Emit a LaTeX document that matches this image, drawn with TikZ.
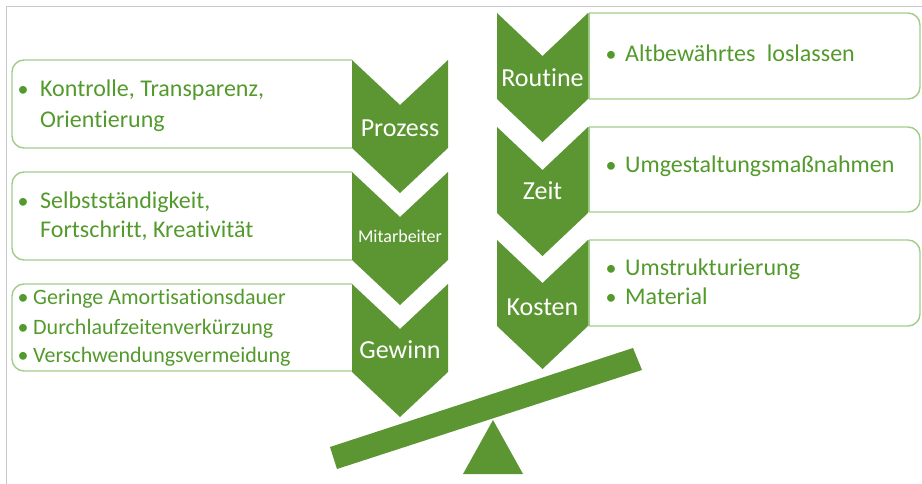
\documentclass[tikz,border=0pt]{standalone}
\usepackage{fontspec}
\setmainfont{Carlito}[Ligatures=NoCommon]
\definecolor{chevgreen}{HTML}{5B9632}
\definecolor{txtgreen}{HTML}{539A2C}
\definecolor{boxgreen}{HTML}{A2CC88}
\definecolor{framegray}{HTML}{C8C8C8}
\tikzset{
  chev/.style={fill=chevgreen, draw=none},
  boxline/.style={draw=boxgreen, line width=1.4pt, rounded corners=12pt},
  item/.style={anchor=base west, inner sep=0pt, text=txtgreen, font=\fontsize{24}{28}\selectfont},
  smallitem/.style={anchor=base west, inner sep=0pt, text=txtgreen, font=\fontsize{22}{26}\selectfont},
  dot/.style={anchor=base, inner sep=0pt, text=txtgreen, font=\fontsize{22}{26}\selectfont},
  chevlabel/.style={anchor=base, inner sep=0pt, text=white, font=\fontsize{26}{30}\selectfont},
}
% chevron: centre x, top y, half width, side length, tip depth
\newcommand{\chevronshape}[5]{%
  \fill[chev] (#1-#3,#2) -- (#1,#2+#5) -- (#1+#3,#2) -- (#1+#3,#2+#4)
    -- (#1,#2+#4+#5) -- (#1-#3,#2+#4) -- cycle;}
\begin{document}
\begin{tikzpicture}[x=1pt,y=-1pt]
\useasboundingbox (0,0) rectangle (922,484);
% frame
\draw[framegray, line width=1pt] (6,484) -- (6,7) -- (922,7);

% left boxes
\draw[boxline] (352,60) -- (12,60) -- (12,148) -- (352,148);
\draw[boxline] (352,172) -- (12,172) -- (12,260) -- (352,260);
\draw[boxline] (352,284) -- (12,284) -- (12,371) -- (352,371);

% right boxes
\draw[boxline] (589,13) -- (920,13) -- (920,99) -- (589,99);
\draw[draw=boxgreen, line width=1.4pt] (589,13) -- (589,99);
\draw[boxline] (589,127) -- (920,127) -- (920,212) -- (589,212);
\draw[draw=boxgreen, line width=1.4pt] (589,127) -- (589,212);
\draw[boxline] (589,240) -- (920,240) -- (920,326) -- (589,326);
\draw[draw=boxgreen, line width=1.4pt] (589,240) -- (589,326);

% left chevrons
\chevronshape{400}{60}{48}{88}{45}
\chevronshape{400}{172}{48}{88}{45}
\chevronshape{400}{284}{48}{88}{45}
% right chevrons
\chevronshape{542.5}{13}{45.5}{86}{43}
\chevronshape{542.5}{127}{45.5}{86}{43}
\chevronshape{542.5}{240}{45.5}{86}{43}

% seesaw
\fill[chevgreen] (330,447) -- (633,348) -- (642,370) -- (337,469) -- cycle;
\fill[chevgreen] (493,420) -- (523,474) -- (463,474) -- cycle;

% chevron labels
\node[chevlabel] (prozess) at (400,137) {Prozess};
\node[chevlabel, font=\fontsize{18}{22}\selectfont] (mitarbeiter) at (400,243) {Mitarbeiter};
\node[chevlabel] (gewinn) at (400,358) {Gewinn};
\node[chevlabel] (routine) at (542.5,87) {Routine};
\node[chevlabel] (zeit) at (542.5,200) {Zeit};
\node[chevlabel] (kosten) at (542.5,315) {Kosten};

% left texts
\node[dot] (b1) at (23,97) {•};
\node[item] (t1a) at (40,97) {Kontrolle, Transparenz,};
\node[item] (t1b) at (40,128) {Orientierung};
\node[dot] (b2) at (23,208) {•};
\node[item] (t2a) at (40,208) {Selbstständigkeit,};
\node[item] (t2b) at (40,237) {Fortschritt, Kreativität};
\node[dot] (b3) at (23,305) {•};
\node[smallitem] (t3a) at (33,305) {Geringe Amortisationsdauer};
\node[dot] (b4) at (23,334) {•};
\node[smallitem] (t3b) at (33,334) {Durchlaufzeitenverkürzung};
\node[dot] (b5) at (23,362) {•};
\node[smallitem] (t3c) at (33,362) {Verschwendungsvermeidung};

% right texts
\node[dot] (b6) at (611,62) {•};
\node[item] (t4) at (625,62) {Altbewährtes\hspace{0.25em} loslassen};
\node[dot] (b7) at (611,173) {•};
\node[item] (t5) at (625,173) {Umgestaltungsmaßnahmen};
\node[dot] (b8) at (611,275) {•};
\node[item] (t6a) at (625,275) {Umstrukturierung};
\node[dot] (b9) at (611,305) {•};
\node[item] (t6b) at (625,305) {Material};
\end{tikzpicture}
\end{document}
